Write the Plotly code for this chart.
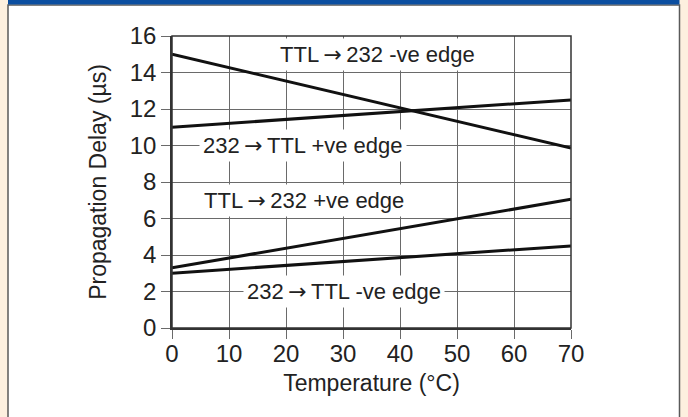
import plotly.graph_objects as go

# ---- data ----
temperature = [0, 70]
ttl_232_neg = [15.0, 9.86]
rs232_ttl_pos = [11.0, 12.5]
ttl_232_pos = [3.3, 7.05]
rs232_ttl_neg = [3.0, 4.5]

x_ticks = [0, 10, 20, 30, 40, 50, 60, 70]
y_ticks = [0, 2, 4, 6, 8, 10, 12, 14, 16]

ARROW = "\u2009<span style='font-family:DejaVu Sans'>\u2192</span>\u2009"
label_texts = ["TTL" + ARROW + "232 -ve edge", "232" + ARROW + "TTL +ve edge",
               "TTL" + ARROW + "232 +ve edge", "232" + ARROW + "TTL -ve edge"]
label_x = [36.0, 22.9, 23.1, 30.1]
label_y = [15.0, 10.0, 7.0, 2.0]

# ---- layout constants (pixels) ----
W, H = 688, 417
L, R, T, B = 172, 117, 36, 89
PW, PH = W - L - R, H - T - B
FONT = "Liberation Sans, Arial, sans-serif"
CREAM = "#FDF0DF"
BLUE = "#0B4EA0"
EDGE = "#5a5a5a"
GRID = "#6a6a6a"
TXT = "#222222"


def px_x(p):
    return (p - L) / PW


def px_y(p):
    return 1 - (p - T) / PH


fig = go.Figure()
for ys in (ttl_232_neg, rs232_ttl_pos, ttl_232_pos, rs232_ttl_neg):
    fig.add_trace(go.Scatter(x=temperature, y=ys, mode="lines",
                             line=dict(color="#111111", width=3),
                             showlegend=False, hoverinfo="skip"))

for t, xv, yv in zip(label_texts, label_x, label_y):
    fig.add_annotation(x=xv, y=yv, xref="x", yref="y", text=t, showarrow=False,
                       bgcolor="white", borderpad=3,
                       font=dict(family=FONT, size=22, color=TXT))

shapes = [
    # white panel
    dict(type="rect", xref="paper", yref="paper", x0=px_x(8), x1=px_x(679.5),
         y0=px_y(H + 5), y1=px_y(5), fillcolor="white",
         line=dict(color=EDGE, width=1.5), layer="below"),
    # blue top bar
    dict(type="rect", xref="paper", yref="paper", x0=px_x(8), x1=px_x(679.5),
         y0=px_y(4.5), y1=px_y(-5), fillcolor=BLUE, line_width=0, layer="below"),
    # plot frame
    dict(type="rect", xref="paper", yref="paper", x0=0, x1=1, y0=0, y1=1,
         line=dict(color="#333333", width=1.5), layer="above"),
]

fig.update_layout(
    width=W, height=H,
    margin=dict(l=L, r=R, t=T, b=B, pad=0),
    paper_bgcolor=CREAM, plot_bgcolor="white",
    shapes=shapes,
    font=dict(family=FONT, size=23, color=TXT),
    xaxis=dict(range=[0, 70], tickvals=x_ticks, ticktext=[str(v) for v in x_ticks],
               showgrid=True, gridcolor=GRID, gridwidth=1.2,
               ticks="outside", ticklen=9, tickcolor=GRID, tickwidth=1.2,
               ticklabelstandoff=-6,
               showline=True, linecolor="#333333", linewidth=1.5,
               zeroline=False, tickfont=dict(size=24),
               title=dict(text="Temperature (°C)", font=dict(size=23), standoff=9)),
    yaxis=dict(range=[0, 16], tickvals=y_ticks, ticktext=[str(v) for v in y_ticks],
               showgrid=True, gridcolor=GRID, gridwidth=1.2,
               ticks="outside", ticklen=9, tickcolor=GRID, tickwidth=1.2,
               showline=True, linecolor="#333333", linewidth=1.5,
               zeroline=False, tickfont=dict(size=24),
               title=dict(text="Propagation Delay (µs)", font=dict(size=23), standoff=17)),
)

fig.write_html("out.html", config={"displayModeBar": False},
               post_script="document.body.style.margin='0';")
